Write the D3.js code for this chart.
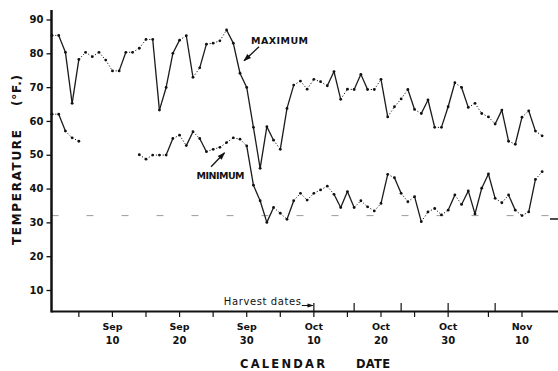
<!DOCTYPE html>
<html>
<head>
<meta charset="utf-8">
<script src="https://cdn.jsdelivr.net/npm/d3@7/dist/d3.min.js"></script>
<style>
  html, body { margin: 0; padding: 0; background: #fff; }
  svg { display: block; }
  text { font-family: "DejaVu Sans", sans-serif; fill: #111; }
</style>
</head>
<body>
<script>
// Daily air temperatures (°F), Sep 1 - Nov 13
const startDay = Date.UTC(1975, 8, 1);

const maxTemps = [
  85.3, 85.3, 80.3, 65.2, 78.2, 80.3, 79, 80.3, 78, 74.8,
  74.8, 80.3, 80.3, 81.5, 84.1, 84.1, 63.2, 69.9, 80, 83.9,
  85.2, 72.9, 75.7, 82.7, 83, 83.7, 86.9, 83, 74.1, 69.9,
  58.1, 46, 58.3, 54.3, 51.6, 63.7, 70.6, 71.8, 69.4, 72.3,
  71.6, 70.4, 74.6, 66.4, 69.4, 69.3, 73.8, 69.3, 69.3, 72.3,
  61.2, 64.2, 66.5, 69.3, 63.4, 62.2, 66.2, 58.1, 58.1, 64.2,
  71.3, 69.9, 64, 65.2, 62.2, 61.2, 59.1, 63.2, 54, 53.1,
  61.1, 63, 57, 55.6
];

// null = no record that day
const minTemps = [
  62, 62, 57, 55, 54, null, null, null, null, null,
  null, null, null, 50, 48.7, 49.9, 49.9, 49.9, 54.8, 55.8,
  52.7, 56.8, 54.8, 50.9, 51.6, 52.2, 53.6, 55, 54.6, 52.6,
  41, 36.4, 30, 34.4, 32.7, 30.9, 36.4, 38.6, 36.6, 38.6,
  39.6, 40.7, 38.3, 34.4, 39.1, 34.4, 36.4, 34.6, 33.4, 35.6,
  44.2, 43.2, 38.6, 36.1, 37.6, 30.2, 33.1, 34.1, 32.2, 33.6,
  38.1, 35.3, 39.3, 32.5, 40.1, 44.3, 37.1, 35.8, 38.1, 33.6,
  32, 33.1, 42.7, 45
];

const yTicks = [10, 20, 30, 40, 50, 60, 70, 80, 90];
const labelDates = ["1975-09-10", "1975-09-20", "1975-09-30", "1975-10-10", "1975-10-20", "1975-10-30", "1975-11-10"];
const labelMonths = ["Sep", "Sep", "Sep", "Oct", "Oct", "Oct", "Nov"];
const labelDays = ["10", "20", "30", "10", "20", "30", "10"];
const harvestDates = ["1975-10-10", "1975-10-16", "1975-10-23", "1975-10-30", "1975-11-06"];
const freezing = 32;

const W = 558, H = 371;
const axisX = 51.5, axisY = 311.5;

const dayDates = maxTemps.map((_, i) => new Date(startDay + i * 864e5));

const x = d3.scaleUtc()
  .domain([new Date(Date.UTC(1975, 8, 1)), new Date(Date.UTC(1975, 10, 10))])
  .range([52, 522]);
const y = d3.scaleLinear().domain([10, 90]).range([290, 19.5]);

const svg = d3.select("body").append("svg")
  .attr("width", W).attr("height", H);

// 32°F freezing line
svg.append("line")
  .attr("x1", axisX).attr("x2", W - 8)
  .attr("y1", y(freezing)).attr("y2", y(freezing))
  .attr("stroke", "#9a9a9a").attr("stroke-width", 1)
  .attr("stroke-dasharray", "7 28");
svg.append("line")
  .attr("x1", W - 8).attr("x2", W)
  .attr("y1", y(freezing - 1)).attr("y2", y(freezing - 1))
  .attr("stroke", "#111").attr("stroke-width", 1.5);

// Draw a series as separate segments: flat ones come out dotted in the print
function drawSeries(values) {
  const g = svg.append("g");
  const segs = [];
  for (let i = 1; i < values.length; i++) {
    if (values[i - 1] == null || values[i] == null) continue;
    segs.push({ a: i - 1, b: i, dv: Math.abs(values[i] - values[i - 1]) });
  }
  g.selectAll("line.seg")
    .data(segs)
    .join("line")
    .attr("class", "seg")
    .attr("x1", (d) => x(dayDates[d.a]))
    .attr("y1", (d) => y(values[d.a]))
    .attr("x2", (d) => x(dayDates[d.b]))
    .attr("y2", (d) => y(values[d.b]))
    .attr("stroke", "#1a1a1a")
    .attr("stroke-width", (d) => d.dv < 3.5 ? 1 : 1.3)
    .attr("stroke-dasharray", (d) => d.dv < 3.5 ? "1.2 2" : null);
  g.selectAll("circle")
    .data(values.map((v, i) => ({ v, i })).filter((d) => d.v != null))
    .join("circle")
    .attr("cx", (d) => x(dayDates[d.i]))
    .attr("cy", (d) => y(d.v))
    .attr("r", 1.4)
    .attr("fill", "#111");
}
drawSeries(maxTemps);
drawSeries(minTemps);

// Axes
const yAxis = d3.axisLeft(y).tickValues(yTicks).tickSize(5).tickPadding(3);
const gy = svg.append("g").attr("transform", `translate(${axisX},0)`).call(yAxis);
gy.select(".domain").remove();
gy.selectAll(".tick line").attr("stroke", "#111").attr("stroke-width", 1.3);
gy.selectAll(".tick text")
  .attr("font-family", "DejaVu Sans").attr("font-weight", "bold")
  .attr("font-size", 10).attr("fill", "#111");

svg.append("line")
  .attr("x1", axisX).attr("x2", axisX)
  .attr("y1", 10).attr("y2", axisY + 1)
  .attr("stroke", "#111").attr("stroke-width", 2.5);
svg.append("line")
  .attr("x1", axisX).attr("x2", W)
  .attr("y1", axisY).attr("y2", axisY)
  .attr("stroke", "#111").attr("stroke-width", 2);

// Date ticks every 5 days (5th, 10th, ... of each month)
const fiveDays = d3.utcDay.range(new Date(Date.UTC(1975, 8, 2)), new Date(Date.UTC(1975, 10, 11)))
  .filter((d) => d.getUTCDate() % 5 === 0);
svg.append("g").selectAll("line")
  .data(fiveDays)
  .join("line")
  .attr("x1", (d) => x(d)).attr("x2", (d) => x(d))
  .attr("y1", axisY).attr("y2", axisY + 5.5)
  .attr("stroke", "#111").attr("stroke-width", 1.2);

// Harvest date marks (upward)
svg.append("g").selectAll("line")
  .data(harvestDates.map((s) => new Date(s + "T00:00:00Z")))
  .join("line")
  .attr("x1", (d) => x(d)).attr("x2", (d) => x(d))
  .attr("y1", axisY).attr("y2", axisY - 8.5)
  .attr("stroke", "#111").attr("stroke-width", 1.2);

const labels = svg.append("g").selectAll("g")
  .data(labelDates.map((s, i) => ({ d: new Date(s + "T00:00:00Z"), m: labelMonths[i], day: labelDays[i] })))
  .join("g")
  .attr("transform", (d) => `translate(${x(d.d)},0)`);
labels.append("text")
  .attr("y", 330).attr("text-anchor", "middle")
  .attr("font-size", 9.5).attr("font-weight", "bold")
  .text((d) => d.m);
labels.append("text")
  .attr("y", 343.5).attr("text-anchor", "middle")
  .attr("font-size", 10).attr("font-weight", "bold")
  .text((d) => d.day);

// Harvest dates caption with small arrow to the first harvest mark
const firstHarvest = x(new Date(harvestDates[0] + "T00:00:00Z"));
svg.append("text")
  .attr("x", firstHarvest - 90).attr("y", 304.5)
  .attr("font-size", 10)
  .attr("textLength", 77).attr("lengthAdjust", "spacing")
  .text("Harvest dates");

const defs = svg.append("defs");
defs.append("marker")
  .attr("id", "head").attr("viewBox", "0 0 10 10")
  .attr("refX", 9).attr("refY", 5)
  .attr("markerWidth", 6).attr("markerHeight", 6)
  .attr("orient", "auto")
  .append("path").attr("d", "M0,1.5 L10,5 L0,8.5 Z").attr("fill", "#111");

svg.append("line")
  .attr("x1", firstHarvest - 12).attr("y1", 305.5)
  .attr("x2", firstHarvest - 1).attr("y2", 305.5)
  .attr("stroke", "#111").attr("stroke-width", 1)
  .attr("marker-end", "url(#head)");

// MAXIMUM / MINIMUM annotations, tips placed next to the curves
const maxTip = [x(new Date(startDay + 28.6 * 864e5)), y(77.8)];
svg.append("line")
  .attr("x1", maxTip[0] + 15).attr("y1", maxTip[1] - 14)
  .attr("x2", maxTip[0]).attr("y2", maxTip[1])
  .attr("stroke", "#111").attr("stroke-width", 1.3)
  .attr("marker-end", "url(#head)");
svg.append("text")
  .attr("x", maxTip[0] + 7).attr("y", maxTip[1] - 16.5)
  .attr("font-size", 9.5).attr("font-weight", "bold")
  .attr("textLength", 57).attr("lengthAdjust", "spacing")
  .text("MAXIMUM");

const minTip = [x(new Date(startDay + 25.7 * 864e5)), y(50.6)];
svg.append("line")
  .attr("x1", minTip[0] - 13.5).attr("y1", minTip[1] + 14)
  .attr("x2", minTip[0]).attr("y2", minTip[1])
  .attr("stroke", "#111").attr("stroke-width", 1.3)
  .attr("marker-end", "url(#head)");
svg.append("text")
  .attr("x", minTip[0] - 28).attr("y", minTip[1] + 26)
  .attr("font-size", 9.5).attr("font-weight", "bold")
  .attr("textLength", 48).attr("lengthAdjust", "spacing")
  .text("MINIMUM");

// Axis titles
svg.append("text")
  .attr("transform", "translate(20.5,245) rotate(-90)")
  .attr("font-size", 12).attr("font-weight", "bold")
  .attr("textLength", 115).attr("lengthAdjust", "spacing")
  .text("TEMPERATURE");
svg.append("text")
  .attr("transform", "translate(20.5,106) rotate(-90)")
  .attr("font-size", 12).attr("font-weight", "bold")
  .attr("textLength", 31).attr("lengthAdjust", "spacing")
  .text("(°F.)");

svg.append("text")
  .attr("x", 240).attr("y", 368)
  .attr("font-size", 11.5).attr("font-weight", "bold")
  .attr("textLength", 85).attr("lengthAdjust", "spacing")
  .text("CALENDAR");
svg.append("text")
  .attr("x", 356).attr("y", 368)
  .attr("font-size", 11.5).attr("font-weight", "bold")
  .attr("textLength", 34).attr("lengthAdjust", "spacing")
  .text("DATE");
</script>
</body>
</html>
